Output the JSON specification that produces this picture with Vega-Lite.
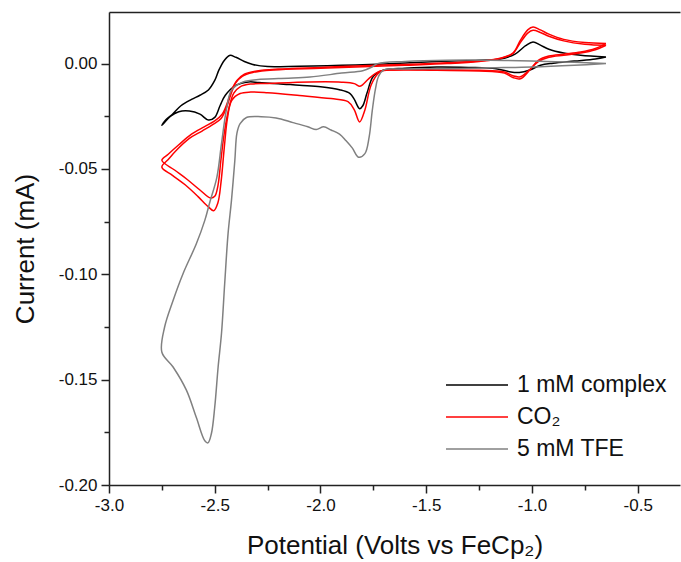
{
  "$schema": "https://vega.github.io/schema/vega-lite/v6.json",
  "width": 571,
  "height": 473,
  "autosize": {"type": "none"},
  "padding": {"left": 109, "top": 12, "right": 1, "bottom": 77},
  "background": "white",
  "config": {
    "view": {"stroke": null},
    "font": "Liberation Sans",
    "axis": {"grid": false}
  },
  "resolve": {"axis": {"x": "independent"}},
  "layer": [
    {
      "data": {"values": [
        {"s":"1 mM complex","c":"k","o":1,"x":-0.65,"y":0.0031},
        {"s":"1 mM complex","c":"k","o":2,"x":-0.70,"y":0.0022},
        {"s":"1 mM complex","c":"k","o":3,"x":-0.80,"y":0.0012},
        {"s":"1 mM complex","c":"k","o":4,"x":-0.90,"y":0.0002},
        {"s":"1 mM complex","c":"k","o":5,"x":-0.96,"y":-0.0008},
        {"s":"1 mM complex","c":"k","o":6,"x":-1.01,"y":-0.0030},
        {"s":"1 mM complex","c":"k","o":7,"x":-1.06,"y":-0.0042},
        {"s":"1 mM complex","c":"k","o":8,"x":-1.10,"y":-0.0040},
        {"s":"1 mM complex","c":"k","o":9,"x":-1.17,"y":-0.0024},
        {"s":"1 mM complex","c":"k","o":10,"x":-1.30,"y":-0.0018},
        {"s":"1 mM complex","c":"k","o":11,"x":-1.45,"y":-0.0016},
        {"s":"1 mM complex","c":"k","o":12,"x":-1.60,"y":-0.0022},
        {"s":"1 mM complex","c":"k","o":13,"x":-1.70,"y":-0.0030},
        {"s":"1 mM complex","c":"k","o":14,"x":-1.75,"y":-0.0060},
        {"s":"1 mM complex","c":"k","o":15,"x":-1.78,"y":-0.0140},
        {"s":"1 mM complex","c":"k","o":16,"x":-1.80,"y":-0.0200},
        {"s":"1 mM complex","c":"k","o":17,"x":-1.815,"y":-0.0214},
        {"s":"1 mM complex","c":"k","o":18,"x":-1.84,"y":-0.0170},
        {"s":"1 mM complex","c":"k","o":19,"x":-1.86,"y":-0.0142},
        {"s":"1 mM complex","c":"k","o":20,"x":-1.91,"y":-0.0124},
        {"s":"1 mM complex","c":"k","o":21,"x":-2.00,"y":-0.0110},
        {"s":"1 mM complex","c":"k","o":22,"x":-2.10,"y":-0.0103},
        {"s":"1 mM complex","c":"k","o":23,"x":-2.20,"y":-0.0095},
        {"s":"1 mM complex","c":"k","o":24,"x":-2.29,"y":-0.0090},
        {"s":"1 mM complex","c":"k","o":25,"x":-2.34,"y":-0.0087},
        {"s":"1 mM complex","c":"k","o":26,"x":-2.40,"y":-0.0103},
        {"s":"1 mM complex","c":"k","o":27,"x":-2.45,"y":-0.0150},
        {"s":"1 mM complex","c":"k","o":28,"x":-2.475,"y":-0.0200},
        {"s":"1 mM complex","c":"k","o":29,"x":-2.50,"y":-0.0255},
        {"s":"1 mM complex","c":"k","o":30,"x":-2.53,"y":-0.0268},
        {"s":"1 mM complex","c":"k","o":31,"x":-2.57,"y":-0.0240},
        {"s":"1 mM complex","c":"k","o":32,"x":-2.62,"y":-0.0225},
        {"s":"1 mM complex","c":"k","o":33,"x":-2.67,"y":-0.0228},
        {"s":"1 mM complex","c":"k","o":34,"x":-2.71,"y":-0.0250},
        {"s":"1 mM complex","c":"k","o":35,"x":-2.75,"y":-0.0293},
        {"s":"1 mM complex","c":"k","o":36,"x":-2.73,"y":-0.0265},
        {"s":"1 mM complex","c":"k","o":37,"x":-2.70,"y":-0.0240},
        {"s":"1 mM complex","c":"k","o":38,"x":-2.66,"y":-0.0200},
        {"s":"1 mM complex","c":"k","o":39,"x":-2.61,"y":-0.0170},
        {"s":"1 mM complex","c":"k","o":40,"x":-2.57,"y":-0.0150},
        {"s":"1 mM complex","c":"k","o":41,"x":-2.53,"y":-0.0125},
        {"s":"1 mM complex","c":"k","o":42,"x":-2.50,"y":-0.0080},
        {"s":"1 mM complex","c":"k","o":43,"x":-2.48,"y":-0.0030},
        {"s":"1 mM complex","c":"k","o":44,"x":-2.455,"y":0.0015},
        {"s":"1 mM complex","c":"k","o":45,"x":-2.43,"y":0.0039},
        {"s":"1 mM complex","c":"k","o":46,"x":-2.40,"y":0.0030},
        {"s":"1 mM complex","c":"k","o":47,"x":-2.36,"y":0.0010},
        {"s":"1 mM complex","c":"k","o":48,"x":-2.32,"y":-0.0004},
        {"s":"1 mM complex","c":"k","o":49,"x":-2.25,"y":-0.0014},
        {"s":"1 mM complex","c":"k","o":50,"x":-2.10,"y":-0.0012},
        {"s":"1 mM complex","c":"k","o":51,"x":-1.90,"y":-0.0008},
        {"s":"1 mM complex","c":"k","o":52,"x":-1.70,"y":-0.0002},
        {"s":"1 mM complex","c":"k","o":53,"x":-1.45,"y":0.0010},
        {"s":"1 mM complex","c":"k","o":54,"x":-1.25,"y":0.0016},
        {"s":"1 mM complex","c":"k","o":55,"x":-1.15,"y":0.0022},
        {"s":"1 mM complex","c":"k","o":56,"x":-1.08,"y":0.0045},
        {"s":"1 mM complex","c":"k","o":57,"x":-1.03,"y":0.0085},
        {"s":"1 mM complex","c":"k","o":58,"x":-0.995,"y":0.0103},
        {"s":"1 mM complex","c":"k","o":59,"x":-0.96,"y":0.0088},
        {"s":"1 mM complex","c":"k","o":60,"x":-0.92,"y":0.0068},
        {"s":"1 mM complex","c":"k","o":61,"x":-0.85,"y":0.0050},
        {"s":"1 mM complex","c":"k","o":62,"x":-0.77,"y":0.0040},
        {"s":"1 mM complex","c":"k","o":63,"x":-0.65,"y":0.0031},

        {"s":"CO₂","c":"r1","o":1,"x":-0.65,"y":0.0095},
        {"s":"CO₂","c":"r1","o":2,"x":-0.70,"y":0.0072},
        {"s":"CO₂","c":"r1","o":3,"x":-0.77,"y":0.0055},
        {"s":"CO₂","c":"r1","o":4,"x":-0.85,"y":0.0045},
        {"s":"CO₂","c":"r1","o":5,"x":-0.92,"y":0.0036},
        {"s":"CO₂","c":"r1","o":6,"x":-0.97,"y":0.0016},
        {"s":"CO₂","c":"r1","o":7,"x":-1.01,"y":-0.0030},
        {"s":"CO₂","c":"r1","o":8,"x":-1.055,"y":-0.0072},
        {"s":"CO₂","c":"r1","o":9,"x":-1.09,"y":-0.0066},
        {"s":"CO₂","c":"r1","o":10,"x":-1.13,"y":-0.0045},
        {"s":"CO₂","c":"r1","o":11,"x":-1.25,"y":-0.0035},
        {"s":"CO₂","c":"r1","o":12,"x":-1.45,"y":-0.0032},
        {"s":"CO₂","c":"r1","o":13,"x":-1.65,"y":-0.0030},
        {"s":"CO₂","c":"r1","o":14,"x":-1.72,"y":-0.0040},
        {"s":"CO₂","c":"r1","o":15,"x":-1.76,"y":-0.0100},
        {"s":"CO₂","c":"r1","o":16,"x":-1.79,"y":-0.0220},
        {"s":"CO₂","c":"r1","o":17,"x":-1.815,"y":-0.0277},
        {"s":"CO₂","c":"r1","o":18,"x":-1.84,"y":-0.0220},
        {"s":"CO₂","c":"r1","o":19,"x":-1.87,"y":-0.0180},
        {"s":"CO₂","c":"r1","o":20,"x":-1.95,"y":-0.0166},
        {"s":"CO₂","c":"r1","o":21,"x":-2.10,"y":-0.0151},
        {"s":"CO₂","c":"r1","o":22,"x":-2.25,"y":-0.0138},
        {"s":"CO₂","c":"r1","o":23,"x":-2.33,"y":-0.0135},
        {"s":"CO₂","c":"r1","o":24,"x":-2.38,"y":-0.0142},
        {"s":"CO₂","c":"r1","o":25,"x":-2.42,"y":-0.0175},
        {"s":"CO₂","c":"r1","o":26,"x":-2.44,"y":-0.0260},
        {"s":"CO₂","c":"r1","o":27,"x":-2.455,"y":-0.0400},
        {"s":"CO₂","c":"r1","o":28,"x":-2.47,"y":-0.0560},
        {"s":"CO₂","c":"r1","o":29,"x":-2.485,"y":-0.0660},
        {"s":"CO₂","c":"r1","o":30,"x":-2.505,"y":-0.0698},
        {"s":"CO₂","c":"r1","o":31,"x":-2.53,"y":-0.0680},
        {"s":"CO₂","c":"r1","o":32,"x":-2.58,"y":-0.0630},
        {"s":"CO₂","c":"r1","o":33,"x":-2.64,"y":-0.0575},
        {"s":"CO₂","c":"r1","o":34,"x":-2.70,"y":-0.0530},
        {"s":"CO₂","c":"r1","o":35,"x":-2.75,"y":-0.0491},
        {"s":"CO₂","c":"r1","o":36,"x":-2.72,"y":-0.0455},
        {"s":"CO₂","c":"r1","o":37,"x":-2.68,"y":-0.0410},
        {"s":"CO₂","c":"r1","o":38,"x":-2.62,"y":-0.0355},
        {"s":"CO₂","c":"r1","o":39,"x":-2.56,"y":-0.0320},
        {"s":"CO₂","c":"r1","o":40,"x":-2.51,"y":-0.0290},
        {"s":"CO₂","c":"r1","o":41,"x":-2.47,"y":-0.0260},
        {"s":"CO₂","c":"r1","o":42,"x":-2.445,"y":-0.0210},
        {"s":"CO₂","c":"r1","o":43,"x":-2.425,"y":-0.0150},
        {"s":"CO₂","c":"r1","o":44,"x":-2.40,"y":-0.0090},
        {"s":"CO₂","c":"r1","o":45,"x":-2.37,"y":-0.0060},
        {"s":"CO₂","c":"r1","o":46,"x":-2.32,"y":-0.0042},
        {"s":"CO₂","c":"r1","o":47,"x":-2.22,"y":-0.0030},
        {"s":"CO₂","c":"r1","o":48,"x":-2.00,"y":-0.0022},
        {"s":"CO₂","c":"r1","o":49,"x":-1.80,"y":-0.0015},
        {"s":"CO₂","c":"r1","o":50,"x":-1.60,"y":-0.0008},
        {"s":"CO₂","c":"r1","o":51,"x":-1.40,"y":0.0000},
        {"s":"CO₂","c":"r1","o":52,"x":-1.25,"y":0.0010},
        {"s":"CO₂","c":"r1","o":53,"x":-1.15,"y":0.0024},
        {"s":"CO₂","c":"r1","o":54,"x":-1.09,"y":0.0050},
        {"s":"CO₂","c":"r1","o":55,"x":-1.055,"y":0.0110},
        {"s":"CO₂","c":"r1","o":56,"x":-1.02,"y":0.0160},
        {"s":"CO₂","c":"r1","o":57,"x":-0.995,"y":0.0174},
        {"s":"CO₂","c":"r1","o":58,"x":-0.96,"y":0.0160},
        {"s":"CO₂","c":"r1","o":59,"x":-0.92,"y":0.0140},
        {"s":"CO₂","c":"r1","o":60,"x":-0.85,"y":0.0115},
        {"s":"CO₂","c":"r1","o":61,"x":-0.75,"y":0.0100},
        {"s":"CO₂","c":"r1","o":62,"x":-0.65,"y":0.0095},

        {"s":"CO₂","c":"r2","o":1,"x":-0.65,"y":0.0087},
        {"s":"CO₂","c":"r2","o":2,"x":-0.70,"y":0.0066},
        {"s":"CO₂","c":"r2","o":3,"x":-0.77,"y":0.0050},
        {"s":"CO₂","c":"r2","o":4,"x":-0.85,"y":0.0040},
        {"s":"CO₂","c":"r2","o":5,"x":-0.92,"y":0.0030},
        {"s":"CO₂","c":"r2","o":6,"x":-0.97,"y":0.0010},
        {"s":"CO₂","c":"r2","o":7,"x":-1.01,"y":-0.0028},
        {"s":"CO₂","c":"r2","o":8,"x":-1.055,"y":-0.0062},
        {"s":"CO₂","c":"r2","o":9,"x":-1.09,"y":-0.0058},
        {"s":"CO₂","c":"r2","o":10,"x":-1.13,"y":-0.0040},
        {"s":"CO₂","c":"r2","o":11,"x":-1.25,"y":-0.0032},
        {"s":"CO₂","c":"r2","o":12,"x":-1.45,"y":-0.0030},
        {"s":"CO₂","c":"r2","o":13,"x":-1.65,"y":-0.0030},
        {"s":"CO₂","c":"r2","o":14,"x":-1.72,"y":-0.0036},
        {"s":"CO₂","c":"r2","o":15,"x":-1.77,"y":-0.0070},
        {"s":"CO₂","c":"r2","o":16,"x":-1.80,"y":-0.0100},
        {"s":"CO₂","c":"r2","o":17,"x":-1.815,"y":-0.0108},
        {"s":"CO₂","c":"r2","o":18,"x":-1.84,"y":-0.0095},
        {"s":"CO₂","c":"r2","o":19,"x":-1.90,"y":-0.0088},
        {"s":"CO₂","c":"r2","o":20,"x":-2.05,"y":-0.0087},
        {"s":"CO₂","c":"r2","o":21,"x":-2.25,"y":-0.0094},
        {"s":"CO₂","c":"r2","o":22,"x":-2.33,"y":-0.0097},
        {"s":"CO₂","c":"r2","o":23,"x":-2.38,"y":-0.0110},
        {"s":"CO₂","c":"r2","o":24,"x":-2.41,"y":-0.0140},
        {"s":"CO₂","c":"r2","o":25,"x":-2.435,"y":-0.0220},
        {"s":"CO₂","c":"r2","o":26,"x":-2.455,"y":-0.0330},
        {"s":"CO₂","c":"r2","o":27,"x":-2.47,"y":-0.0450},
        {"s":"CO₂","c":"r2","o":28,"x":-2.485,"y":-0.0580},
        {"s":"CO₂","c":"r2","o":29,"x":-2.50,"y":-0.0630},
        {"s":"CO₂","c":"r2","o":30,"x":-2.52,"y":-0.0638},
        {"s":"CO₂","c":"r2","o":31,"x":-2.57,"y":-0.0600},
        {"s":"CO₂","c":"r2","o":32,"x":-2.63,"y":-0.0550},
        {"s":"CO₂","c":"r2","o":33,"x":-2.69,"y":-0.0505},
        {"s":"CO₂","c":"r2","o":34,"x":-2.75,"y":-0.0459},
        {"s":"CO₂","c":"r2","o":35,"x":-2.72,"y":-0.0430},
        {"s":"CO₂","c":"r2","o":36,"x":-2.67,"y":-0.0385},
        {"s":"CO₂","c":"r2","o":37,"x":-2.61,"y":-0.0335},
        {"s":"CO₂","c":"r2","o":38,"x":-2.55,"y":-0.0300},
        {"s":"CO₂","c":"r2","o":39,"x":-2.50,"y":-0.0272},
        {"s":"CO₂","c":"r2","o":40,"x":-2.465,"y":-0.0240},
        {"s":"CO₂","c":"r2","o":41,"x":-2.44,"y":-0.0185},
        {"s":"CO₂","c":"r2","o":42,"x":-2.42,"y":-0.0125},
        {"s":"CO₂","c":"r2","o":43,"x":-2.395,"y":-0.0080},
        {"s":"CO₂","c":"r2","o":44,"x":-2.36,"y":-0.0050},
        {"s":"CO₂","c":"r2","o":45,"x":-2.30,"y":-0.0035},
        {"s":"CO₂","c":"r2","o":46,"x":-2.20,"y":-0.0026},
        {"s":"CO₂","c":"r2","o":47,"x":-2.00,"y":-0.0018},
        {"s":"CO₂","c":"r2","o":48,"x":-1.80,"y":-0.0010},
        {"s":"CO₂","c":"r2","o":49,"x":-1.60,"y":-0.0004},
        {"s":"CO₂","c":"r2","o":50,"x":-1.40,"y":0.0004},
        {"s":"CO₂","c":"r2","o":51,"x":-1.25,"y":0.0012},
        {"s":"CO₂","c":"r2","o":52,"x":-1.15,"y":0.0026},
        {"s":"CO₂","c":"r2","o":53,"x":-1.09,"y":0.0048},
        {"s":"CO₂","c":"r2","o":54,"x":-1.055,"y":0.0100},
        {"s":"CO₂","c":"r2","o":55,"x":-1.02,"y":0.0145},
        {"s":"CO₂","c":"r2","o":56,"x":-0.995,"y":0.0158},
        {"s":"CO₂","c":"r2","o":57,"x":-0.96,"y":0.0148},
        {"s":"CO₂","c":"r2","o":58,"x":-0.92,"y":0.0130},
        {"s":"CO₂","c":"r2","o":59,"x":-0.85,"y":0.0108},
        {"s":"CO₂","c":"r2","o":60,"x":-0.75,"y":0.0092},
        {"s":"CO₂","c":"r2","o":61,"x":-0.65,"y":0.0087},

        {"s":"5 mM TFE","c":"g","o":1,"x":-0.65,"y":0.0000},
        {"s":"5 mM TFE","c":"g","o":2,"x":-0.80,"y":-0.0008},
        {"s":"5 mM TFE","c":"g","o":3,"x":-1.00,"y":-0.0016},
        {"s":"5 mM TFE","c":"g","o":4,"x":-1.20,"y":-0.0020},
        {"s":"5 mM TFE","c":"g","o":5,"x":-1.40,"y":-0.0024},
        {"s":"5 mM TFE","c":"g","o":6,"x":-1.60,"y":-0.0026},
        {"s":"5 mM TFE","c":"g","o":7,"x":-1.70,"y":-0.0030},
        {"s":"5 mM TFE","c":"g","o":8,"x":-1.725,"y":-0.0060},
        {"s":"5 mM TFE","c":"g","o":9,"x":-1.74,"y":-0.0120},
        {"s":"5 mM TFE","c":"g","o":10,"x":-1.755,"y":-0.0222},
        {"s":"5 mM TFE","c":"g","o":11,"x":-1.77,"y":-0.0349},
        {"s":"5 mM TFE","c":"g","o":12,"x":-1.79,"y":-0.0427},
        {"s":"5 mM TFE","c":"g","o":13,"x":-1.82,"y":-0.0444},
        {"s":"5 mM TFE","c":"g","o":14,"x":-1.85,"y":-0.0400},
        {"s":"5 mM TFE","c":"g","o":15,"x":-1.88,"y":-0.0365},
        {"s":"5 mM TFE","c":"g","o":16,"x":-1.91,"y":-0.0335},
        {"s":"5 mM TFE","c":"g","o":17,"x":-1.95,"y":-0.0315},
        {"s":"5 mM TFE","c":"g","o":18,"x":-1.985,"y":-0.0300},
        {"s":"5 mM TFE","c":"g","o":19,"x":-2.02,"y":-0.0313},
        {"s":"5 mM TFE","c":"g","o":20,"x":-2.06,"y":-0.0300},
        {"s":"5 mM TFE","c":"g","o":21,"x":-2.13,"y":-0.0280},
        {"s":"5 mM TFE","c":"g","o":22,"x":-2.21,"y":-0.0258},
        {"s":"5 mM TFE","c":"g","o":23,"x":-2.28,"y":-0.0252},
        {"s":"5 mM TFE","c":"g","o":24,"x":-2.35,"y":-0.0256},
        {"s":"5 mM TFE","c":"g","o":25,"x":-2.38,"y":-0.0285},
        {"s":"5 mM TFE","c":"g","o":26,"x":-2.395,"y":-0.0330},
        {"s":"5 mM TFE","c":"g","o":27,"x":-2.405,"y":-0.0460},
        {"s":"5 mM TFE","c":"g","o":28,"x":-2.421,"y":-0.0650},
        {"s":"5 mM TFE","c":"g","o":29,"x":-2.437,"y":-0.0807},
        {"s":"5 mM TFE","c":"g","o":30,"x":-2.453,"y":-0.1045},
        {"s":"5 mM TFE","c":"g","o":31,"x":-2.468,"y":-0.1280},
        {"s":"5 mM TFE","c":"g","o":32,"x":-2.484,"y":-0.1440},
        {"s":"5 mM TFE","c":"g","o":33,"x":-2.50,"y":-0.1630},
        {"s":"5 mM TFE","c":"g","o":34,"x":-2.516,"y":-0.1757},
        {"s":"5 mM TFE","c":"g","o":35,"x":-2.532,"y":-0.1800},
        {"s":"5 mM TFE","c":"g","o":36,"x":-2.547,"y":-0.1790},
        {"s":"5 mM TFE","c":"g","o":37,"x":-2.587,"y":-0.1680},
        {"s":"5 mM TFE","c":"g","o":38,"x":-2.634,"y":-0.1550},
        {"s":"5 mM TFE","c":"g","o":39,"x":-2.697,"y":-0.1440},
        {"s":"5 mM TFE","c":"g","o":40,"x":-2.75,"y":-0.1370},
        {"s":"5 mM TFE","c":"g","o":41,"x":-2.737,"y":-0.1250},
        {"s":"5 mM TFE","c":"g","o":42,"x":-2.697,"y":-0.1124},
        {"s":"5 mM TFE","c":"g","o":43,"x":-2.65,"y":-0.0997},
        {"s":"5 mM TFE","c":"g","o":44,"x":-2.587,"y":-0.0855},
        {"s":"5 mM TFE","c":"g","o":45,"x":-2.547,"y":-0.0744},
        {"s":"5 mM TFE","c":"g","o":46,"x":-2.524,"y":-0.0660},
        {"s":"5 mM TFE","c":"g","o":47,"x":-2.49,"y":-0.0540},
        {"s":"5 mM TFE","c":"g","o":48,"x":-2.468,"y":-0.0380},
        {"s":"5 mM TFE","c":"g","o":49,"x":-2.445,"y":-0.0220},
        {"s":"5 mM TFE","c":"g","o":50,"x":-2.421,"y":-0.0127},
        {"s":"5 mM TFE","c":"g","o":51,"x":-2.366,"y":-0.0087},
        {"s":"5 mM TFE","c":"g","o":52,"x":-2.20,"y":-0.0071},
        {"s":"5 mM TFE","c":"g","o":53,"x":-2.05,"y":-0.0064},
        {"s":"5 mM TFE","c":"g","o":54,"x":-1.90,"y":-0.0045},
        {"s":"5 mM TFE","c":"g","o":55,"x":-1.80,"y":-0.0034},
        {"s":"5 mM TFE","c":"g","o":56,"x":-1.755,"y":-0.0015},
        {"s":"5 mM TFE","c":"g","o":57,"x":-1.73,"y":0.0000},
        {"s":"5 mM TFE","c":"g","o":58,"x":-1.60,"y":0.0010},
        {"s":"5 mM TFE","c":"g","o":59,"x":-1.40,"y":0.0016},
        {"s":"5 mM TFE","c":"g","o":60,"x":-1.20,"y":0.0016},
        {"s":"5 mM TFE","c":"g","o":61,"x":-1.00,"y":0.0012},
        {"s":"5 mM TFE","c":"g","o":62,"x":-0.80,"y":0.0006},
        {"s":"5 mM TFE","c":"g","o":63,"x":-0.65,"y":0.0000}
      ]},
      "mark": {"type": "line", "strokeWidth": 1.5, "interpolate": "catmull-rom", "clip": true},
      "encoding": {
        "x": {
          "field": "x", "type": "quantitative",
          "scale": {"domain": [-3.0, -0.3], "nice": false, "zero": false},
          "axis": {
            "values": [-3.0, -2.75, -2.5, -2.25, -2.0, -1.75, -1.5, -1.25, -1.0, -0.75, -0.5],
            "labelExpr": "abs(datum.value*2 - round(datum.value*2)) < 0.001 ? (datum.value < 0 ? '-' : '') + format(abs(datum.value), '.1f') : ''",
            "tickSize": {"condition": {"test": "abs(datum.value*2 - round(datum.value*2)) < 0.001", "value": 8}, "value": 5},
            "tickColor": "#222",
            "tickWidth": 1.5,
            "domainColor": "#222",
            "domainWidth": 1.5,
            "labelFontSize": 17,
            "labelColor": "#111",
            "labelPadding": 4,
            "labelFlush": false,
            "labelOverlap": false,
            "title": "Potential (Volts vs FeCp₂)",
            "titleFontSize": 26,
            "titleFontWeight": "normal",
            "titleColor": "#111",
            "titlePadding": 19
          }
        },
        "y": {
          "field": "y", "type": "quantitative",
          "scale": {"domain": [-0.2, 0.0245], "nice": false, "zero": false},
          "axis": {
            "values": [-0.2, -0.175, -0.15, -0.125, -0.1, -0.075, -0.05, -0.025, 0.0],
            "labelExpr": "abs(datum.value*20 - round(datum.value*20)) < 0.001 ? (datum.value < -0.0001 ? '-' : '') + format(abs(datum.value), '.2f') : ''",
            "tickSize": {"condition": {"test": "abs(datum.value*20 - round(datum.value*20)) < 0.001", "value": 8}, "value": 5},
            "tickColor": "#222",
            "tickWidth": 1.5,
            "domainColor": "#222",
            "domainWidth": 1.5,
            "labelFontSize": 17,
            "labelColor": "#111",
            "labelPadding": 4,
            "labelFlush": false,
            "labelOverlap": false,
            "title": "Current (mA)",
            "titleFontSize": 26,
            "titleFontWeight": "normal",
            "titleColor": "#111",
            "titlePadding": 20
          }
        },
        "color": {
          "field": "s", "type": "nominal",
          "scale": {"domain": ["1 mM complex", "CO₂", "5 mM TFE"], "range": ["#000000", "#ff0000", "#808080"]},
          "legend": {
            "title": null,
            "orient": "none",
            "legendX": 336,
            "legendY": 361,
            "symbolType": "stroke",
            "symbolSize": 3844,
            "symbolStrokeWidth": 1.5,
            "clipHeight": 24,
            "rowPadding": 8,
            "labelFontSize": 23,
            "labelColor": "#111",
            "labelOffset": 8,
            "padding": 0
          }
        },
        "detail": {"field": "c", "type": "nominal"},
        "order": {"field": "o", "type": "quantitative"}
      }
    },
    {
      "data": {"values": [{"x": -3.0}]},
      "mark": {"type": "tick", "opacity": 0},
      "encoding": {
        "x": {
          "field": "x", "type": "quantitative",
          "scale": {"domain": [-3.0, -0.3], "nice": false, "zero": false},
          "axis": {"orient": "top", "labels": false, "ticks": false, "title": null, "domainColor": "#222", "domainWidth": 1.5}
        }
      }
    }
  ]
}
